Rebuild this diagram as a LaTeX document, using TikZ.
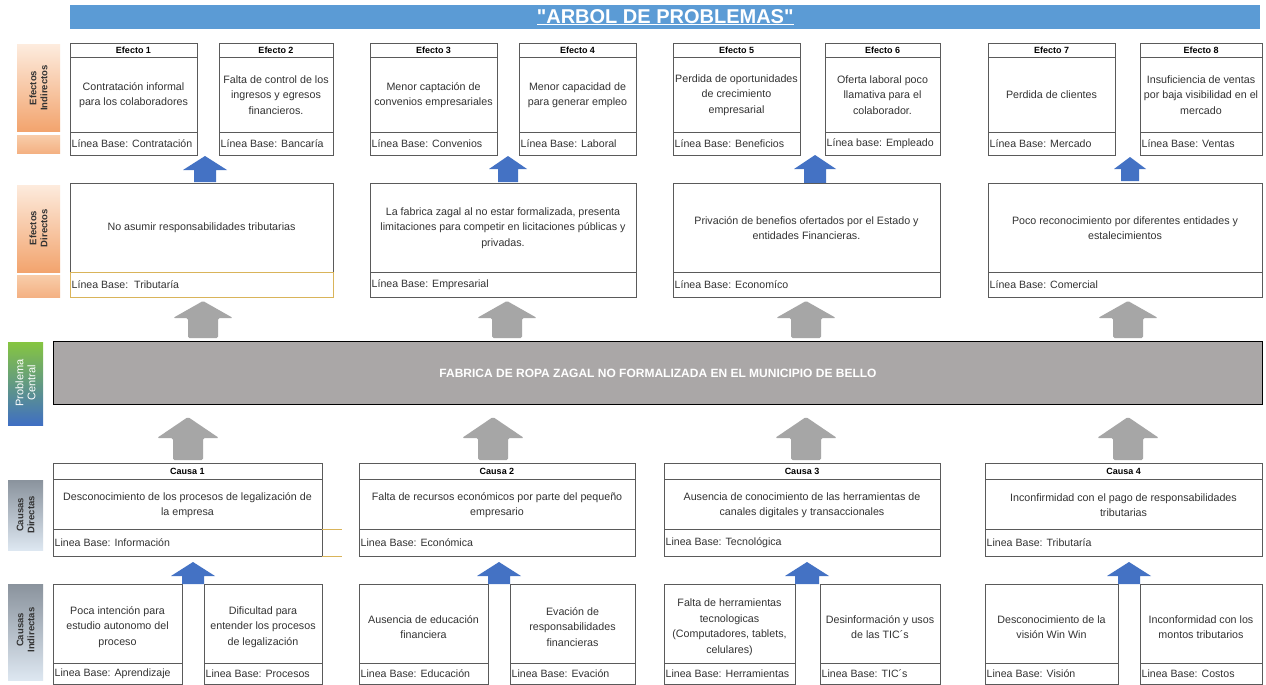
\documentclass[tikz,border=0pt]{standalone}
\usepackage{fontspec}
\setmainfont{Liberation Sans}
\newfontfamily\titlefont{Liberation Sans}
\usetikzlibrary{calc}
\definecolor{bordc}{HTML}{5A5A5A}
\definecolor{txtc}{HTML}{333333}
\definecolor{titleblue}{HTML}{5B9BD5}
\definecolor{arrblue}{HTML}{4472C4}
\definecolor{arrgray}{HTML}{A6A6A6}
\definecolor{centgray}{HTML}{AAA7A7}
\definecolor{orgtop}{HTML}{FDEBDD}
\definecolor{orgbot}{HTML}{F2A46E}
\definecolor{orgsmt}{HTML}{F8CDAA}
\definecolor{orgsmb}{HTML}{F4B183}
\definecolor{grntop}{HTML}{86C540}
\definecolor{blubot}{HTML}{3F6FC3}
\definecolor{gytop}{HTML}{8A939D}
\definecolor{gybot}{HTML}{DDE7F1}
\definecolor{goldl}{HTML}{D9B45A}
\tikzset{
  boxst/.style={draw=bordc, line width=0.8pt, fill=white, inner sep=0pt, outer sep=0pt},
  sep/.style={draw=bordc, line width=0.8pt},
  hdr/.style={font=\fontsize{9}{10}\selectfont\bfseries, text=black, inner sep=0pt},
  bodytxt/.style={font=\fontsize{10.7}{15.5}\selectfont, text=txtc, align=center, inner sep=0pt},
  lbtxt/.style={font=\fontsize{10.6}{13}\selectfont, text=txtc, anchor=west, inner xsep=1.5pt, inner ysep=0pt},
  sidelbl/.style={rotate=90, font=\fontsize{9.5}{11}\selectfont\bfseries, text=black!80, align=center, inner sep=0pt},
}
% block arrow: [opts], colour, cx, ytip, yheadbase, ybottom, half head width, half stem width
\newcommand\uparr[8][]{\fill[#2,#1] (#3,#4) -- (#3+#7,#5) -- (#3+#8,#5) -- (#3+#8,#6) -- (#3-#8,#6) -- (#3-#8,#5) -- (#3-#7,#5) -- cycle;}
% indirect effect: name x1 x2 header body linea
\newcommand\effect[6]{%
  \node[boxst, minimum width=#3-#2, minimum height=112, anchor=north west] (#1) at (#2,43) {};
  \draw[sep] (#2,57) -- (#3,57) (#2,132) -- (#3,132);
  \node[hdr] (#1-h) at ({(#2+#3)/2},50) {#4};
  \node[bodytxt] (#1-b) at ({(#2+#3)/2},95) {#5};
  \node[lbtxt] (#1-l) at (#2,143.5) {#6};}
% direct effect: name x1 x2 body linea
\newcommand\deffect[5]{%
  \node[boxst, minimum width=#3-#2, minimum height=114, anchor=north west] (#1) at (#2,183) {};
  \draw[sep] (#2,272) -- (#3,272);
  \node[bodytxt] (#1-b) at ({(#2+#3)/2},228) {#4};
  \node[lbtxt] (#1-l) at (#2,284.5) {#5};}
% direct cause: name x1 x2 header body linea
\newcommand\cause[6]{%
  \node[boxst, minimum width=#3-#2, minimum height=93, anchor=north west] (#1) at (#2,463) {};
  \draw[sep] (#2,479) -- (#3,479) (#2,529) -- (#3,529);
  \node[hdr] (#1-h) at ({(#2+#3)/2},471) {#4};
  \node[bodytxt] (#1-b) at ({(#2+#3)/2},505) {#5};
  \node[lbtxt] (#1-l) at (#2,542.5) {#6};}
% indirect cause: name x1 x2 body linea
\newcommand\icause[5]{%
  \node[boxst, minimum width=#3-#2, minimum height=100, anchor=north west] (#1) at (#2,584) {};
  \draw[sep] (#2,663) -- (#3,663);
  \node[bodytxt] (#1-b) at ({(#2+#3)/2},627) {#4};
  \node[lbtxt] (#1-l) at (#2,674) {#5};}
\begin{document}
\begin{tikzpicture}[x=1pt,y=-1pt]
\useasboundingbox (0,0) rectangle (1266,685);
\fill[white] (0,0) rectangle (1266,685);

% title
\node[fill=titleblue, minimum width=1190, minimum height=24, anchor=north west, inner sep=0pt] (title) at (70,5) {};
\node[font=\titlefont\fontsize{20}{22}\selectfont\bfseries, text=white] (titletxt) at (title.center) {\underline{"ARBOL DE PROBLEMAS"}};

% side labels
\shade[top color=orgtop, bottom color=orgbot] (17,45) rectangle (60,131);
\shade[top color=orgsmt, bottom color=orgsmb] (17,135) rectangle (60,153);
\node[sidelbl] (lbl-ei) at (38.5,88) {Efectos\\Indirectos};
\shade[top color=orgtop, bottom color=orgbot] (17,185) rectangle (60,272);
\shade[top color=orgsmt, bottom color=orgsmb] (17,275) rectangle (60,297);
\node[sidelbl] (lbl-ed) at (38.5,228) {Efectos\\Directos};
\shade[top color=grntop, bottom color=blubot] (8,342) rectangle (43,425);
\node[sidelbl, font=\fontsize{11}{12}\selectfont, text=white] (lbl-pc) at (25.5,383) {Problema\\Central};
\shade[top color=gytop, bottom color=gybot] (8,480) rectangle (43,550);
\node[sidelbl] (lbl-cd) at (25.5,515) {Causas\\Directas};
\shade[top color=gytop, bottom color=gybot] (8,584) rectangle (43,680);
\node[sidelbl] (lbl-ci) at (25.5,630) {Causas\\Indirectas};

% indirect effects
\effect{e1}{70}{197}{Efecto 1}{Contratación informal\\para los colaboradores}{Línea Base: Contratación}
\effect{e2}{219}{333}{Efecto 2}{Falta de control de los\\ingresos y egresos\\financieros.}{Línea Base: Bancaría}
\effect{e3}{370}{497}{Efecto 3}{Menor captación de\\convenios empresariales}{Línea Base: Convenios}
\effect{e4}{519}{636}{Efecto 4}{Menor capacidad de\\para generar empleo}{Línea Base: Laboral}
\effect{e5}{673}{800}{Efecto 5}{Perdida de oportunidades\\de crecimiento\\empresarial}{Línea Base: Beneficios}
\effect{e6}{825}{940}{Efecto 6}{Oferta laboral poco\\llamativa para el\\colaborador.}{Línea base: Empleado}
\effect{e7}{988}{1115}{Efecto 7}{Perdida de clientes}{Línea Base: Mercado}
\effect{e8}{1140}{1262}{Efecto 8}{Insuficiencia de ventas\\por baja visibilidad en el\\mercado}{Línea Base: Ventas}

% blue arrows effects
\uparr{arrblue}{205}{156}{170}{182}{22}{11}
\uparr{arrblue}{508}{156}{169}{182}{19}{10}
\uparr{arrblue}{815}{155}{169}{183}{21}{11}
\uparr{arrblue}{1130}{157}{169}{181}{16}{9}

% direct effects
\deffect{d1}{70}{333}{No asumir responsabilidades tributarias}{Línea Base:\ \ Tributaría}
\draw[goldl, line width=0.8pt] (70,272) rectangle (333,297);
\deffect{d2}{370}{636}{La fabrica zagal al no estar formalizada, presenta\\limitaciones para competir en licitaciones públicas y\\privadas.}{Línea Base: Empresarial}
\deffect{d3}{673}{940}{Privación de benefios ofertados por el Estado y\\entidades Financieras.}{Línea Base: Economíco}
\deffect{d4}{988}{1262}{Poco reconocimiento por diferentes entidades y\\estalecimientos}{Línea Base: Comercial}

% gray arrows to central problem (upper)
\uparr[rounded corners=1.5pt]{arrgray}{203}{301}{318}{338}{30}{15}
\uparr[rounded corners=1.5pt]{arrgray}{507}{301}{318}{338}{30}{15}
\uparr[rounded corners=1.5pt]{arrgray}{806}{301}{318}{338}{30}{15}
\uparr[rounded corners=1.5pt]{arrgray}{1128}{301}{318}{338}{30}{15}

% central problem
\node[fill=centgray, draw=black, line width=1pt, minimum width=1209, minimum height=63, anchor=north west, inner sep=0pt] (central) at (53,341) {};
\node[font=\fontsize{12}{14}\selectfont\bfseries, text=white] (central-t) at (central.center) {FABRICA DE ROPA ZAGAL NO FORMALIZADA EN EL MUNICIPIO DE BELLO};

% gray arrows (lower)
\uparr[rounded corners=1.5pt]{arrgray}{188}{417}{438}{460}{31}{15}
\uparr[rounded corners=1.5pt]{arrgray}{493}{417}{438}{460}{31}{15}
\uparr[rounded corners=1.5pt]{arrgray}{806}{417}{438}{460}{31}{15}
\uparr[rounded corners=1.5pt]{arrgray}{1128}{417}{438}{460}{31}{15}

% direct causes
\cause{c1}{53}{322}{Causa 1}{Desconocimiento de los procesos de legalización de\\la empresa}{Linea Base: Información}
\draw[goldl, line width=0.8pt] (c1.south east |- 0,529) -- ++(20,0) (c1.south east) -- ++(20,0);
\cause{c2}{359}{635}{Causa 2}{Falta de recursos económicos por parte del pequeño\\empresario}{Linea Base: Económica}
\cause{c3}{664}{940}{Causa 3}{Ausencia de conocimiento de las herramientas de\\canales digitales y transaccionales}{Linea Base: Tecnológica}
\cause{c4}{985}{1262}{Causa 4}{Inconfirmidad con el pago de responsabilidades\\tributarias}{Linea Base: Tributaría}

% indirect causes
\icause{i1}{53}{182}{Poca intención para\\estudio autonomo del\\proceso}{Linea Base: Aprendizaje}
\icause{i2}{204}{322}{Dificultad para\\entender los procesos\\de legalización}{Linea Base: Procesos}
\icause{i3}{359}{488}{Ausencia de educación\\financiera}{Linea Base: Educación}
\icause{i4}{510}{635}{Evación de\\responsabilidades\\financieras}{Linea Base: Evación}
\icause{i5}{664}{795}{Falta de herramientas\\tecnologicas\\(Computadores, tablets,\\celulares)}{Linea Base: Herramientas}
\icause{i6}{820}{940}{Desinformación y usos\\de las TIC´s}{Linea Base: TIC´s}
\icause{i7}{985}{1118}{Desconocimiento de la\\visión Win Win}{Linea Base: Visión}
\icause{i8}{1140}{1262}{Inconformidad con los\\montos tributarios}{Linea Base: Costos}

% blue arrows causes
\uparr{arrblue}{193}{562}{576}{584}{22}{11}
\uparr{arrblue}{499}{562}{576}{584}{22}{11}
\uparr{arrblue}{807}{562}{576}{584}{22}{12}
\uparr{arrblue}{1129}{562}{576}{584}{22}{11}
\end{tikzpicture}
\end{document}
